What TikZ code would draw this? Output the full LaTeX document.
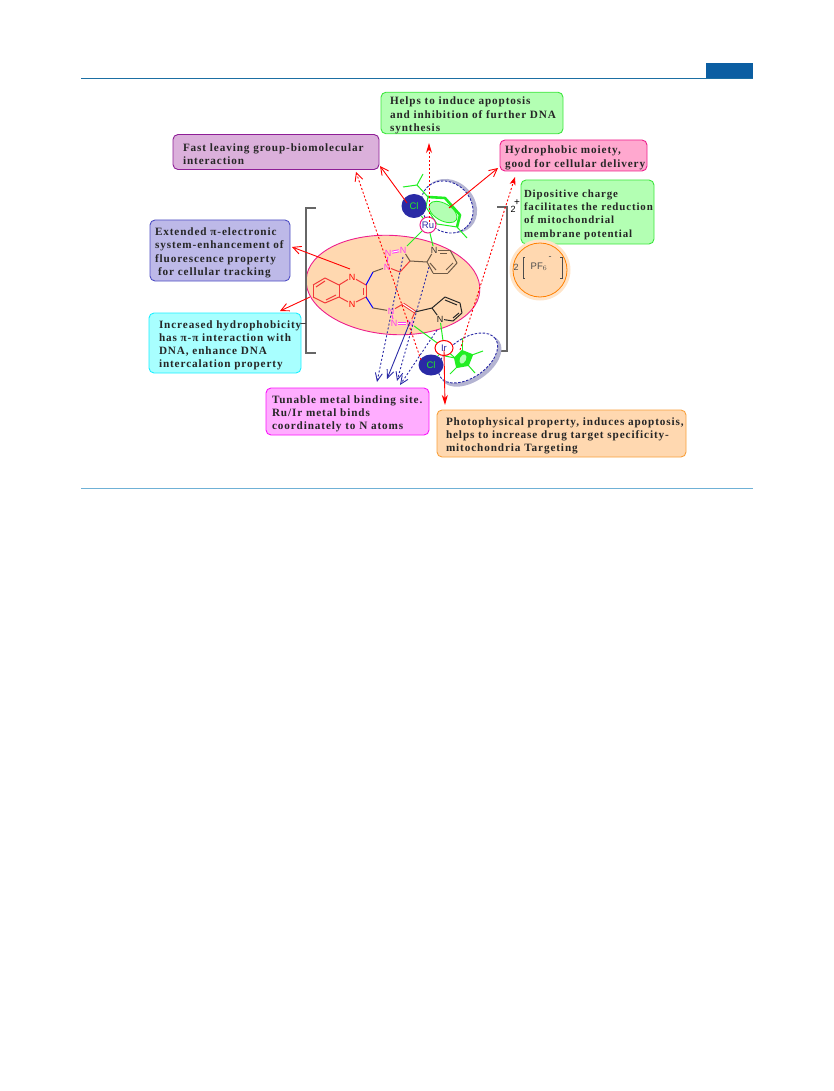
\documentclass[tikz,border=0pt]{standalone}
\usepackage{fontspec}
\usepackage{xcolor}
\usetikzlibrary{arrows.meta}
\usetikzlibrary{shapes.geometric}
\setmainfont[LetterSpace=8]{Liberation Serif}
\newfontfamily\atomfont{Liberation Sans}
\definecolor{ruleblue}{HTML}{1B6FA3}
\definecolor{rulelight}{HTML}{6FB1D6}
\definecolor{tabblue}{HTML}{0B5EA2}
\definecolor{peach}{HTML}{FFD8B0}
\definecolor{boxgreen}{HTML}{B3FFB3}
\definecolor{ringgreen}{HTML}{22EE22}
\definecolor{bondred}{HTML}{F23A3A}
\definecolor{bondbrown}{HTML}{6E5A46}
\definecolor{hotpink}{HTML}{EE1E8C}
\definecolor{atommagenta}{HTML}{FF3CF0}
\definecolor{navyblue}{HTML}{2A2AA6}
\definecolor{shadowgrey}{HTML}{B4B4D2}
\definecolor{purplefill}{HTML}{DBB0DB}
\definecolor{purpleline}{HTML}{8E1E96}
\definecolor{pinkfill}{HTML}{FFA8CF}
\definecolor{bluefill}{HTML}{BDB9E8}
\definecolor{blueline}{HTML}{4F4FC4}
\definecolor{cyanfill}{HTML}{A8FFFF}
\definecolor{cyanline}{HTML}{1CEFFF}
\definecolor{magentafill}{HTML}{FFADFF}
\definecolor{magentaline}{HTML}{FA14FA}
\definecolor{orangeline}{HTML}{F8A03C}
\definecolor{greenline}{HTML}{3CE63C}
\tikzset{my_box/.style n args={4}{rectangle, rounded corners=5pt, draw=#1, fill=#2, line width=0.9pt, text=black!85,
    inner xsep=0pt, inner ysep=0pt, text width=#3pt, minimum height=#4pt,
    font=\fontsize{11.2}{13.3}\selectfont\bfseries,
    execute at begin node={\parindent=0pt\rightskip=-6pt plus 1fil\relax\rule{0pt}{12.5pt}}}}
\tikzset{my_pad/.style={execute at begin node={\leftskip=#1pt\relax}}}
\tikzset{my_atom/.style={inner sep=0.6pt, font=\atomfont\fontsize{9}{9}\selectfont}}
\tikzset{my_arrow/.style={red, line width=0.9pt, -{Straight Barb[length=8pt,width=8pt]}}}
\tikzset{my_dotted/.style={red, line width=0.9pt, dash pattern=on 2pt off 2pt, -{Straight Barb[length=8pt,width=8pt]}}}
\tikzset{my_blue/.style={navyblue, line width=0.9pt, -{Straight Barb[length=8pt,width=7pt]}}}
\tikzset{my_bluedot/.style={my_blue, dash pattern=on 2pt off 2pt}}
\tikzset{my_bond/.style={line width=1pt}}
\tikzset{my_metal/.style={circle, line width=1pt, fill=white, inner sep=0pt, font=\atomfont\fontsize{9.5}{9.5}\selectfont}}
\tikzset{my_chloride/.style={ellipse, fill=navyblue, text=ringgreen, inner sep=0pt, font=\atomfont\fontsize{9.5}{9.5}\selectfont}}
\tikzset{my_halo/.style={ellipse, draw=navyblue, dash pattern=on 2.5pt off 1.5pt, line width=0.9pt, fill=white, inner sep=0pt}}
\tikzset{my_shadow/.style={ellipse, fill=shadowgrey, inner sep=0pt}}

\begin{document}
\begin{tikzpicture}[x=1pt, y=-1pt]
    \useasboundingbox (0,0) rectangle (833,1091);
    %\draw[help lines, step=50] (0,0) grid (833,500);

    % page furniture
    \coordinate (top_l) at (81,78);
    \coordinate (top_r) at (753,78);
    \coordinate (bot_l) at (81,488.5);
    \coordinate (bot_r) at (753,488.5);
    \node[rectangle, fill=tabblue, minimum width=47pt, minimum height=15pt, inner sep=0pt] (tab) at (729.5,70.5) {};
    \draw[ruleblue, line width=0.9pt] (top_l) -- (top_r);
    \draw[rulelight, line width=0.7pt] (bot_l) -- (bot_r);

    % text boxes
    \node[my_box={greenline}{boxgreen}{182}{40}, my_pad=9] (apoptosis) at (472,113) {Helps to induce apoptosis\\and inhibition of further DNA\\synthesis};
    \node[my_box={purpleline}{purplefill}{206}{35}, my_pad=10] (leaving) at (276,152) {Fast leaving group-biomolecular\\interaction};
    \node[my_box={hotpink}{pinkfill}{147}{31}, my_pad=5] (delivery) at (573.5,155.5) {Hydrophobic moiety,\\good for cellular delivery};
    \node[my_box={greenline}{boxgreen}{133}{64}, my_pad=3] (charge) at (587.5,212) {\fontsize{10.9}{13.3}\selectfont Dipositive charge\\facilitates the reduction\\of mitochondrial\\membrane potential};
    \node[my_box={blueline}{bluefill}{140}{61}, my_pad=5] (tracking) at (220,250.5) {Extended π-electronic\\system-enhancement of\\fluorescence property\\\hspace*{3pt}for cellular tracking};
    \node[my_box={cyanline}{cyanfill}{152}{60}, my_pad=10] (intercalation) at (225,343) {Increased hydrophobicity\\has π-π interaction with\\DNA, enhance DNA\\intercalation property};
    \node[my_box={magentaline}{magentafill}{163}{47}, my_pad=6] (binding) at (347.5,411.5) {Tunable metal binding site.\\Ru/Ir metal binds\\coordinately to N atoms};
    \node[my_box={orangeline}{peach}{249}{47}, my_pad=9] (targeting) at (561.5,433.5) {Photophysical property, induces apoptosis,\\helps to increase drug target specificity-\\mitochondria Targeting};

    % counter ion
    \node[circle, fill=peach!70, minimum size=61pt, inner sep=0pt] (pf_halo) at (540,270) {};
    \node[circle, draw=orange, fill=peach, line width=0.8pt, minimum size=54pt, inner sep=0pt] (pf_disc) at (540,270) {};
    \node[my_atom, text=black!70] (pf_two) at (516,267) {2};
    \node[my_atom, font=\atomfont\fontsize{9.5}{9.5}\selectfont, text=black!70] (pf_six) at (539,267) {PF$_6$};
    \node[my_atom, text=black!70] (pf_minus) at (550,258) {-};
    \coordinate (pf_l1) at (525,257);
    \coordinate (pf_l2) at (523,257);
    \coordinate (pf_l3) at (523,278);
    \coordinate (pf_l4) at (525,278);
    \coordinate (pf_r1) at (560,257);
    \coordinate (pf_r2) at (562,257);
    \coordinate (pf_r3) at (562,278);
    \coordinate (pf_r4) at (560,278);
    \draw[black!70, line width=0.8pt] (pf_l1) -- (pf_l2) -- (pf_l3) -- (pf_l4);
    \draw[black!70, line width=0.8pt] (pf_r1) -- (pf_r2) -- (pf_r3) -- (pf_r4);

    % ligand background and square brackets
    \node[ellipse, draw=hotpink, fill=peach, line width=0.9pt, minimum width=174pt, minimum height=99pt, inner sep=0pt, rotate=-4] (ligand) at (393,285) {};
    \coordinate (bl1) at (316,208);
    \coordinate (bl2) at (306,208);
    \coordinate (bl3) at (306,353);
    \coordinate (bl4) at (316,353);
    \coordinate (br1) at (497,207);
    \coordinate (br2) at (507,207);
    \coordinate (br3) at (507,351);
    \coordinate (br4) at (497,351);
    \coordinate (bl_tick) at (306,323);
    \draw[black!60, line width=1.1pt] (bl1) -- (bl2) -- (bl3) -- (bl4);
    \draw[black!60, line width=1.1pt] (br1) -- (br2) -- (br3) -- (br4);
    \draw[black!75, line width=0.8pt] (intercalation.east |- bl_tick) -- (bl_tick);
    \node[my_atom] (charge_two) at (513,209) {2};
    \node[my_atom, font=\atomfont\fontsize{10}{10}\selectfont] (charge_plus) at (517,203) {+};

    % cymene side
    \node[my_shadow, minimum width=59pt, minimum height=49pt, rotate=-45] (ru_shadow) at (450,206) {};
    \node[my_halo, minimum width=56pt, minimum height=48pt, rotate=-45] (ru_halo) at (447,207) {};
    \node[ellipse, draw=ringgreen, fill=boxgreen, line width=0.8pt, minimum width=31pt, minimum height=17pt, inner sep=0pt, rotate=-30] (ru_ring) at (443,212) {};
    \coordinate (h1) at (428,197);
    \coordinate (h2) at (445,198);
    \coordinate (h3) at (460,215);
    \coordinate (h4) at (457,227);
    \coordinate (h5) at (437,224);
    \coordinate (h6) at (426,207);
    \coordinate (ipr) at (417,185);
    \coordinate (ipr_a) at (403,187);
    \coordinate (ipr_b) at (423,174);
    \coordinate (me_a) at (467,238);
    \draw[ringgreen, line width=2.6pt, line join=round] (h1) -- (h2) -- (h3) -- (h4);
    \draw[ringgreen, line width=1pt] (h4) -- (h5) -- (h6) -- (h1);
    \path[my_bond, ringgreen]
        (h1) edge (ipr)
        (ipr) edge (ipr_a)
        (ipr) edge (ipr_b)
        (h4) edge (me_a)
    ;

    % triazole and pyridine, upper
    \node[my_atom, text=atommagenta] (t1) at (388,253) {N};
    \node[my_atom, text=atommagenta] (t2) at (403,250) {N};
    \node[my_atom, text=atommagenta] (t3) at (387,267) {N};
    \coordinate (t4) at (410,261);
    \coordinate (t5) at (400,272);
    \node[my_atom, text=black!80] (p1) at (434,250) {N};
    \coordinate (p2) at (450,250);
    \coordinate (p3) at (457,263);
    \coordinate (p4) at (448,273);
    \coordinate (p5) at (433,273);
    \coordinate (p6) at (427,262);
    \coordinate (p2i) at (447,253);
    \coordinate (p1i) at (440,253);
    \coordinate (p3i) at (453,263);
    \coordinate (p4i) at (446,270);
    \coordinate (p5i) at (436,270);
    \coordinate (p6i) at (430,263);
    \path[my_bond, bondred]
        (t3) edge (t5)
        (t5) edge (t4)
    ;
    \path[my_bond, atommagenta]
        (t1) edge [double, double distance=1pt] (t2)
        (t1) edge (t3)
    ;
    \path[my_bond, bondbrown]
        (t2) edge (t4)
        (t4) edge (p6)
        (p1) edge (p2)
        (p2) edge (p3)
        (p3) edge (p4)
        (p4) edge (p5)
        (p5) edge (p6)
        (p6) edge (p1)
        (p1i) edge (p2i)
        (p3i) edge (p4i)
        (p5i) edge (p6i)
    ;

    % quinoxaline
    \coordinate (q1) at (313,285);
    \coordinate (q2) at (325,278);
    \coordinate (q3) at (339,285);
    \coordinate (q4) at (339,297);
    \coordinate (q5) at (325,303);
    \coordinate (q6) at (313,297);
    \node[my_atom, text=red] (qn1) at (352,277) {N};
    \coordinate (q7) at (366,285);
    \coordinate (q8) at (366,297);
    \node[my_atom, text=red] (qn2) at (352,304) {N};
    \coordinate (c1) at (373,272);
    \coordinate (c2) at (373,308);
    \coordinate (q1i) at (316,287);
    \coordinate (q2i) at (325,281);
    \coordinate (q4i) at (336,295);
    \coordinate (q5i) at (326,300);
    \coordinate (q7i) at (363,288);
    \coordinate (q8i) at (363,295);
    \path[my_bond, bondred]
        (q1) edge (q2)
        (q2) edge (q3)
        (q3) edge (q4)
        (q4) edge (q5)
        (q5) edge (q6)
        (q6) edge (q1)
        (q3) edge (qn1)
        (qn1) edge (q7)
        (q7) edge (q8)
        (q8) edge (qn2)
        (qn2) edge (q4)
        (q1i) edge (q2i)
        (q4i) edge (q5i)
        (q7i) edge (q8i)
    ;
    \path[my_bond, blue]
        (q7) edge (c1)
        (q8) edge (c2)
    ;

    % triazole and pyridine, lower
    \node[my_atom, text=atommagenta] (u1) at (391,311) {N};
    \node[my_atom, text=atommagenta] (u2) at (394,323) {N};
    \node[my_atom, text=atommagenta] (u3) at (410,323) {N};
    \coordinate (u4) at (415,312);
    \coordinate (u5) at (403,304);
    \node[my_atom, text=black!90] (v1) at (440,319) {N};
    \coordinate (v2) at (432,308);
    \coordinate (v3) at (445,297);
    \coordinate (v4) at (460,303);
    \coordinate (v5) at (462,313);
    \coordinate (v6) at (453,321);
    \coordinate (v3i) at (445,300);
    \coordinate (v4i) at (457,305);
    \coordinate (v5i) at (459,313);
    \coordinate (v6i) at (453,318);
    \path[my_bond, bondbrown]
        (c1) edge (t3)
        (c2) edge (u1)
    ;
    \path[my_bond, bondred]
        (u1) edge (u5)
        (u5) edge [double, double distance=1pt] (u4)
        (u4) edge (u3)
    ;
    \path[my_bond, atommagenta]
        (u2) edge [double, double distance=1pt] (u3)
        (u1) edge (u2)
    ;
    \path[my_bond, black!85]
        (u4) edge (v2)
        (v2) edge (v1)
        (v2) edge (v3)
        (v3) edge (v4)
        (v4) edge (v5)
        (v5) edge (v6)
        (v6) edge (v1)
        (v3i) edge (v4i)
        (v5i) edge (v6i)
    ;

    % cp star side
    \node[my_shadow, minimum width=69pt, minimum height=40pt, rotate=35] (ir_shadow) at (471,361) {};
    \node[my_halo, minimum width=67pt, minimum height=39pt, rotate=35] (ir_halo) at (468,358) {};
    \coordinate (f1) at (455,358);
    \coordinate (f2) at (462,351);
    \coordinate (f3) at (472,355);
    \coordinate (f4) at (468,365);
    \coordinate (f5) at (457,367);
    \coordinate (m1) at (445,356);
    \coordinate (m2) at (462,338);
    \coordinate (m3) at (483,351);
    \coordinate (m4) at (475,373);
    \coordinate (m5) at (450,374);
    \draw[ringgreen, fill=ringgreen, line width=2pt, line join=round] (f1) -- (f2) -- (f3) -- (f4) -- (f5) -- cycle;
    \node[ellipse, fill=boxgreen, minimum width=6pt, minimum height=10pt, inner sep=0pt, rotate=-25] (ir_ring) at (463,359) {};
    \path[my_bond, ringgreen]
        (f1) edge (m1)
        (f2) edge (m2)
        (f3) edge (m3)
        (f4) edge (m4)
        (f5) edge (m5)
    ;

    % metals and chlorides
    \node[my_chloride, minimum width=25pt, minimum height=24pt] (cl_top) at (414,206) {Cl};
    \node[my_metal, draw=hotpink, minimum size=16pt, text=navyblue] (ru) at (428,225) {Ru};
    \node[my_chloride, minimum width=25pt, minimum height=21pt] (cl_low) at (431,365) {Cl};
    \node[my_metal, ellipse, draw=red, minimum width=18pt, minimum height=15pt, text=navyblue] (ir) at (444,348) {Ir};
    \path[my_bond, ringgreen]
        (cl_top) edge (ru)
        (ru) edge (p1)
        (ru) edge (t2)
        (u3) edge (ir)
        (v1) edge (ir)
        (ir) edge (cl_low)
        (ir) edge (f1)
    ;

    % free ends of the arrows
    \coordinate (a_cl) at (407,203);
    \coordinate (a_ring) at (449,208);
    \coordinate (a_dot) at (429,222);
    \coordinate (a_clow) at (421,360);
    \coordinate (a_cp) at (460,350);
    \coordinate (a_pi) at (350,269);
    \coordinate (a_benz) at (310,297);
    \coordinate (a_ir) at (444,350);
    \coordinate (tip_leave) at (380,166);
    \coordinate (tip_dot) at (356,172);
    \coordinate (tip_up) at (429,143);
    \coordinate (tip_hyd) at (498,168);
    \coordinate (tip_chg) at (515,177);
    \coordinate (tip_pi) at (292,247);
    \coordinate (tip_benz) at (280,311);
    \coordinate (tip_ir) at (445,405);
    \coordinate (b_s1) at (403,257);
    \coordinate (b_s2) at (429,267);
    \coordinate (b_s3) at (437,330);
    \coordinate (b_s4) at (410,322);
    \coordinate (b_t1) at (377,382);
    \coordinate (b_t2) at (397,381);
    \coordinate (b_t3) at (400,385);
    \coordinate (b_t4) at (387,379);

    \path[my_arrow]
        (a_cl) edge (tip_leave)
        (a_ring) edge (tip_hyd)
        (a_pi) edge (tip_pi)
        (a_benz) edge (tip_benz)
        (a_ir) edge [-{Stealth[length=10pt,width=6pt,inset=3pt]}] (tip_ir)
    ;
    \path[my_dotted]
        (a_clow) edge (tip_dot)
        (a_dot) edge [-{Stealth[length=10pt,width=6pt]}] (tip_up)
        (a_cp) edge [-{Stealth[length=8pt,width=6pt,inset=2pt]}] (tip_chg)
    ;
    \path[my_bluedot]
        (b_s1) edge (b_t1)
        (b_s2) edge (b_t2)
        (b_s3) edge (b_t3)
    ;
    \path[my_blue]
        (b_s4) edge (b_t4)
    ;
\end{tikzpicture}
\end{document}
